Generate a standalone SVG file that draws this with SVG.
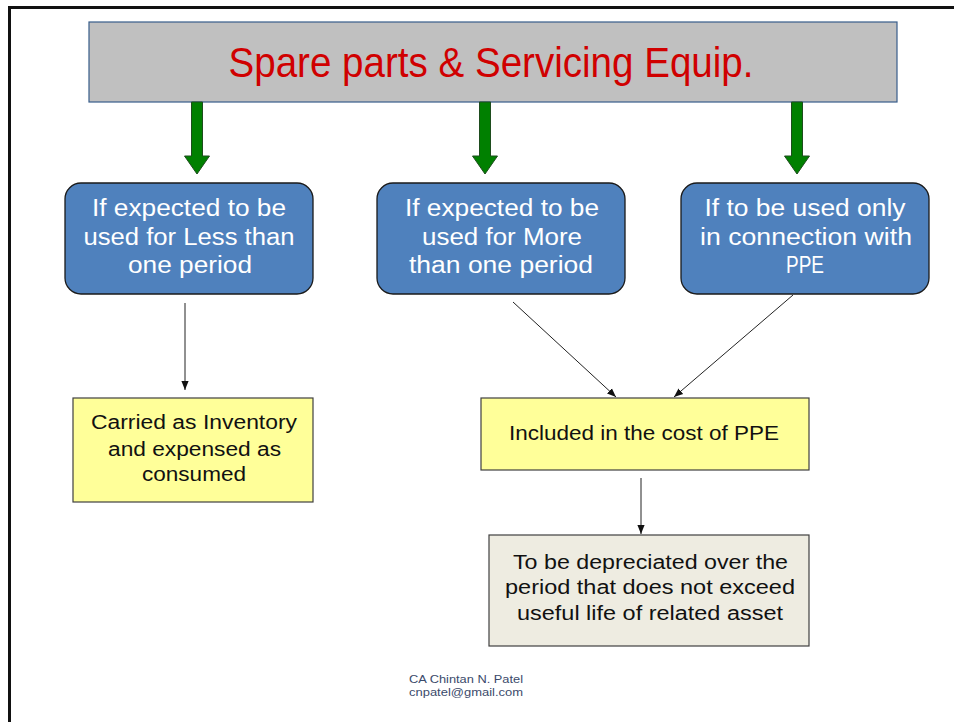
<svg xmlns="http://www.w3.org/2000/svg" width="954" height="722" viewBox="0 0 954 722">
<style>
.frame{fill:none;stroke:#111;stroke-width:3}
.title{fill:#C0C0C0;stroke:#385D8A;stroke-width:1.2}
.ttl{font-family:"Liberation Sans",Arial,sans-serif;font-size:42px;fill:#D00000;text-anchor:middle}
.garrow{fill:#008000;stroke:#1E4D1E;stroke-width:1}
.blue{fill:#4F81BD;stroke:#1A1A1A;stroke-width:1.3}
.wt{font-family:"Liberation Sans",Arial,sans-serif;font-size:23px;fill:#FFFFFF;text-anchor:middle}
.yel{fill:#FFFF99;stroke:#404040;stroke-width:1.2}
.grey{fill:#EEECE1;stroke:#404040;stroke-width:1.2}
.bt{font-family:"Liberation Sans",Arial,sans-serif;font-size:20px;fill:#111111;text-anchor:middle}
.conn{stroke:#222;stroke-width:1;fill:none;marker-end:url(#ah)}
.foot{font-family:"Liberation Sans",Arial,sans-serif;font-size:11.5px;fill:#3B4A6B}
</style>
<defs>
<marker id="ah" viewBox="0 0 10 10" refX="10" refY="5" markerWidth="9" markerHeight="9" markerUnits="userSpaceOnUse" orient="auto">
<path d="M0,1 L10,5 L0,9 z" fill="#111"/>
</marker>
</defs>
<rect width="954" height="722" fill="#FFFFFF"/>
<path class="frame" d="M9.5,722 V7.5 H954"/>

<g id="title">
<rect class="title" x="89" y="22" width="808" height="80"/>
<text class="ttl" x="491" y="77" textLength="525" lengthAdjust="spacingAndGlyphs">Spare parts &amp; Servicing Equip.</text>
</g>

<g id="green-arrows">
<polygon class="garrow" points="191.5,102 202.5,102 202.5,156 209.5,156 197,174 184.5,156 191.5,156"/>
<polygon class="garrow" points="479.5,102 490.5,102 490.5,156 497.5,156 485,174 472.5,156 479.5,156"/>
<polygon class="garrow" points="791.5,102 802.5,102 802.5,156 809.5,156 797,174 784.5,156 791.5,156"/>
</g>

<g id="less">
<rect class="blue" x="65" y="183" width="248" height="111" rx="16"/>
<text class="wt" x="189" y="216" textLength="194" lengthAdjust="spacingAndGlyphs">If  expected to  be</text>
<text class="wt" x="189" y="245" textLength="211" lengthAdjust="spacingAndGlyphs">used  for Less than</text>
<text class="wt" x="190" y="273" textLength="124" lengthAdjust="spacingAndGlyphs">one  period</text>
</g>

<g id="more">
<rect class="blue" x="377" y="183" width="248" height="111" rx="16"/>
<text class="wt" x="502" y="216" textLength="194" lengthAdjust="spacingAndGlyphs">If  expected to  be</text>
<text class="wt" x="502" y="245" textLength="160" lengthAdjust="spacingAndGlyphs">used  for More</text>
<text class="wt" x="501" y="273" textLength="184" lengthAdjust="spacingAndGlyphs">than  one  period</text>
</g>

<g id="ppe-only">
<rect class="blue" x="681" y="183" width="248" height="111" rx="16"/>
<text class="wt" x="805" y="216" textLength="201" lengthAdjust="spacingAndGlyphs">If to  be  used  only</text>
<text class="wt" x="806" y="245" textLength="212" lengthAdjust="spacingAndGlyphs">in  connection with</text>
<text class="wt" x="805" y="273" textLength="38" lengthAdjust="spacingAndGlyphs">PPE</text>
</g>

<g id="inventory">
<rect class="yel" x="73" y="398" width="240" height="104"/>
<text class="bt" x="194" y="429" textLength="206" lengthAdjust="spacingAndGlyphs">Carried as Inventory</text>
<text class="bt" x="194.5" y="456" textLength="173" lengthAdjust="spacingAndGlyphs">and  expensed  as</text>
<text class="bt" x="194" y="481" textLength="104" lengthAdjust="spacingAndGlyphs">consumed</text>
</g>

<g id="cost-ppe">
<rect class="yel" x="481" y="398" width="328" height="72"/>
<text class="bt" x="644" y="440" textLength="270" lengthAdjust="spacingAndGlyphs">Included in  the cost of PPE</text>
</g>

<g id="depreciate">
<rect class="grey" x="489" y="535" width="320" height="111"/>
<text class="bt" x="650.5" y="569" textLength="275" lengthAdjust="spacingAndGlyphs">To be  depreciated  over  the</text>
<text class="bt" x="650" y="594" textLength="290" lengthAdjust="spacingAndGlyphs">period that does  not exceed</text>
<text class="bt" x="650" y="620" textLength="266" lengthAdjust="spacingAndGlyphs">useful life  of  related asset</text>
</g>

<g id="connectors">
<line class="conn" x1="185" y1="303" x2="185" y2="390"/>
<line class="conn" x1="513" y1="302" x2="616" y2="397"/>
<line class="conn" x1="793" y1="295" x2="674" y2="397"/>
<line class="conn" x1="641" y1="478" x2="641" y2="534"/>
</g>

<g id="footer">
<text class="foot" x="409" y="683" textLength="114" lengthAdjust="spacingAndGlyphs">CA Chintan N. Patel</text>
<text class="foot" x="409" y="696" textLength="114" lengthAdjust="spacingAndGlyphs">cnpatel@gmail.com</text>
</g>
</svg>
